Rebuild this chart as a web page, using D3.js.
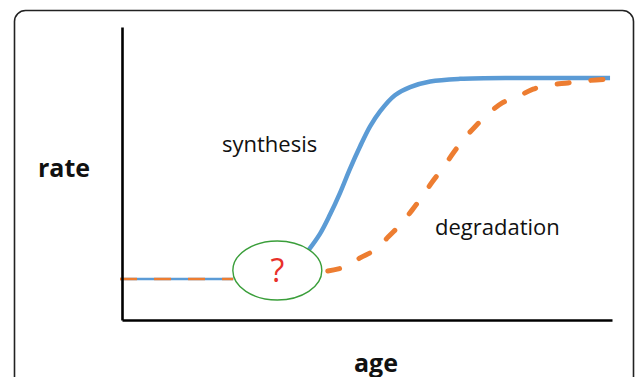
<!DOCTYPE html>
<html>
<head>
<meta charset="utf-8">
<script src="https://cdn.jsdelivr.net/npm/d3@7"></script>
<style>
  html, body { margin: 0; padding: 0; background: #fff; }
  svg { display: block; }
  text { font-family: "Open Sans", "DejaVu Sans", sans-serif; }
</style>
</head>
<body>
<svg id="chart" viewBox="0 0 635 377" width="635" height="377"></svg>
<script>
// age (0-100) vs rate (0-100)
const baselineAge = [-0.4, 22.7];
const baselineRate = [14.0, 14.0];

const synthesisAge  = [38.0, 40.4, 42.4, 44.5, 46.5, 48.6, 50.6, 52.7, 55.7, 58.8, 62.9, 69.0, 81.2, 99.6];
const synthesisRate = [23.7, 29.4, 35.8, 43.4, 51.5, 59.3, 66.0, 71.3, 76.7, 79.5, 81.4, 82.3, 82.6, 82.6];

const degradationAge  = [42.0, 45.5, 48.6, 51.6, 54.3, 57.1, 59.2, 61.2, 63.3, 65.5, 67.6, 69.6, 72.0, 74.5, 77.6, 80.6, 83.9, 87.3, 91.0, 94.5, 99.6];
const degradationRate = [16.7, 18.1, 21.2, 23.9, 28.3, 33.1, 37.5, 42.0, 47.1, 51.9, 57.0, 61.4, 65.9, 70.0, 74.1, 76.1, 78.8, 80.2, 80.9, 81.6, 82.3];

// the unknown region marked with "?"
const unknownAge = 31.7;
const unknownRate = 16.9;

const svg = d3.select("#chart");

// frame
svg.append("rect")
    .attr("x", 14.5).attr("y", 10.5)
    .attr("width", 619).attr("height", 420)
    .attr("rx", 11).attr("ry", 11)
    .attr("fill", "none")
    .attr("stroke", "#222")
    .attr("stroke-width", 1.6);

const x = d3.scaleLinear().domain([0, 100]).range([122, 612]);
const y = d3.scaleLinear().domain([0, 100]).range([320, 27]);

const toPoints = (ages, rates) => ages.map((a, i) => [a, rates[i]]);
const line = d3.line()
    .x(d => x(d[0]))
    .y(d => y(d[1]))
    .curve(d3.curveCatmullRom.alpha(0.5));

// flat part where both rates coincide
const base = toPoints(baselineAge, baselineRate);
svg.append("path")
    .attr("d", line(base))
    .attr("fill", "none")
    .attr("stroke", "#5B9BD5")
    .attr("stroke-width", 2.5);
svg.append("path")
    .attr("d", line(base))
    .attr("fill", "none")
    .attr("stroke", "#ED7D31")
    .attr("stroke-width", 2.5)
    .attr("stroke-dasharray", "17 17");

// synthesis
svg.append("path")
    .attr("d", line(toPoints(synthesisAge, synthesisRate)))
    .attr("fill", "none")
    .attr("stroke", "#5B9BD5")
    .attr("stroke-width", 4.5)
    .attr("stroke-linecap", "butt");

// degradation
svg.append("path")
    .attr("d", line(toPoints(degradationAge, degradationRate)))
    .attr("fill", "none")
    .attr("stroke", "#ED7D31")
    .attr("stroke-width", 5)
    .attr("stroke-linecap", "round")
    .attr("stroke-dasharray", "12 22");

// axes without ticks
svg.append("g")
    .attr("transform", `translate(${x(0)},0)`)
    .call(d3.axisLeft(y).ticks(0).tickSizeOuter(0))
    .call(g => g.select(".domain").attr("stroke", "#000").attr("stroke-width", 2.6));
svg.append("g")
    .attr("transform", `translate(0,${y(0)})`)
    .call(d3.axisBottom(x).ticks(0).tickSizeOuter(0))
    .call(g => g.select(".domain").attr("stroke", "#000").attr("stroke-width", 2.6));

// question ellipse
svg.append("ellipse")
    .attr("cx", x(unknownAge)).attr("cy", y(unknownRate))
    .attr("rx", 44.5).attr("ry", 29.5)
    .attr("fill", "#fff")
    .attr("stroke", "#3A9E3A")
    .attr("stroke-width", 1.4);
svg.append("text")
    .attr("x", x(unknownAge)).attr("y", y(unknownRate) + 12)
    .attr("text-anchor", "middle")
    .attr("font-size", 32)
    .attr("fill", "#E8302A")
    .text("?");

// labels
svg.append("text").attr("x", 222).attr("y", 152)
    .attr("font-size", 22).attr("fill", "#111").text("synthesis");
svg.append("text").attr("x", 435).attr("y", 235)
    .attr("font-size", 22).attr("fill", "#111").text("degradation");
svg.append("text").attr("x", 38).attr("y", 177)
    .attr("font-size", 25).attr("font-weight", "bold").attr("fill", "#111").text("rate");
svg.append("text").attr("x", 354).attr("y", 372)
    .attr("font-size", 25).attr("font-weight", "bold").attr("fill", "#111").text("age");
</script>
</body>
</html>
